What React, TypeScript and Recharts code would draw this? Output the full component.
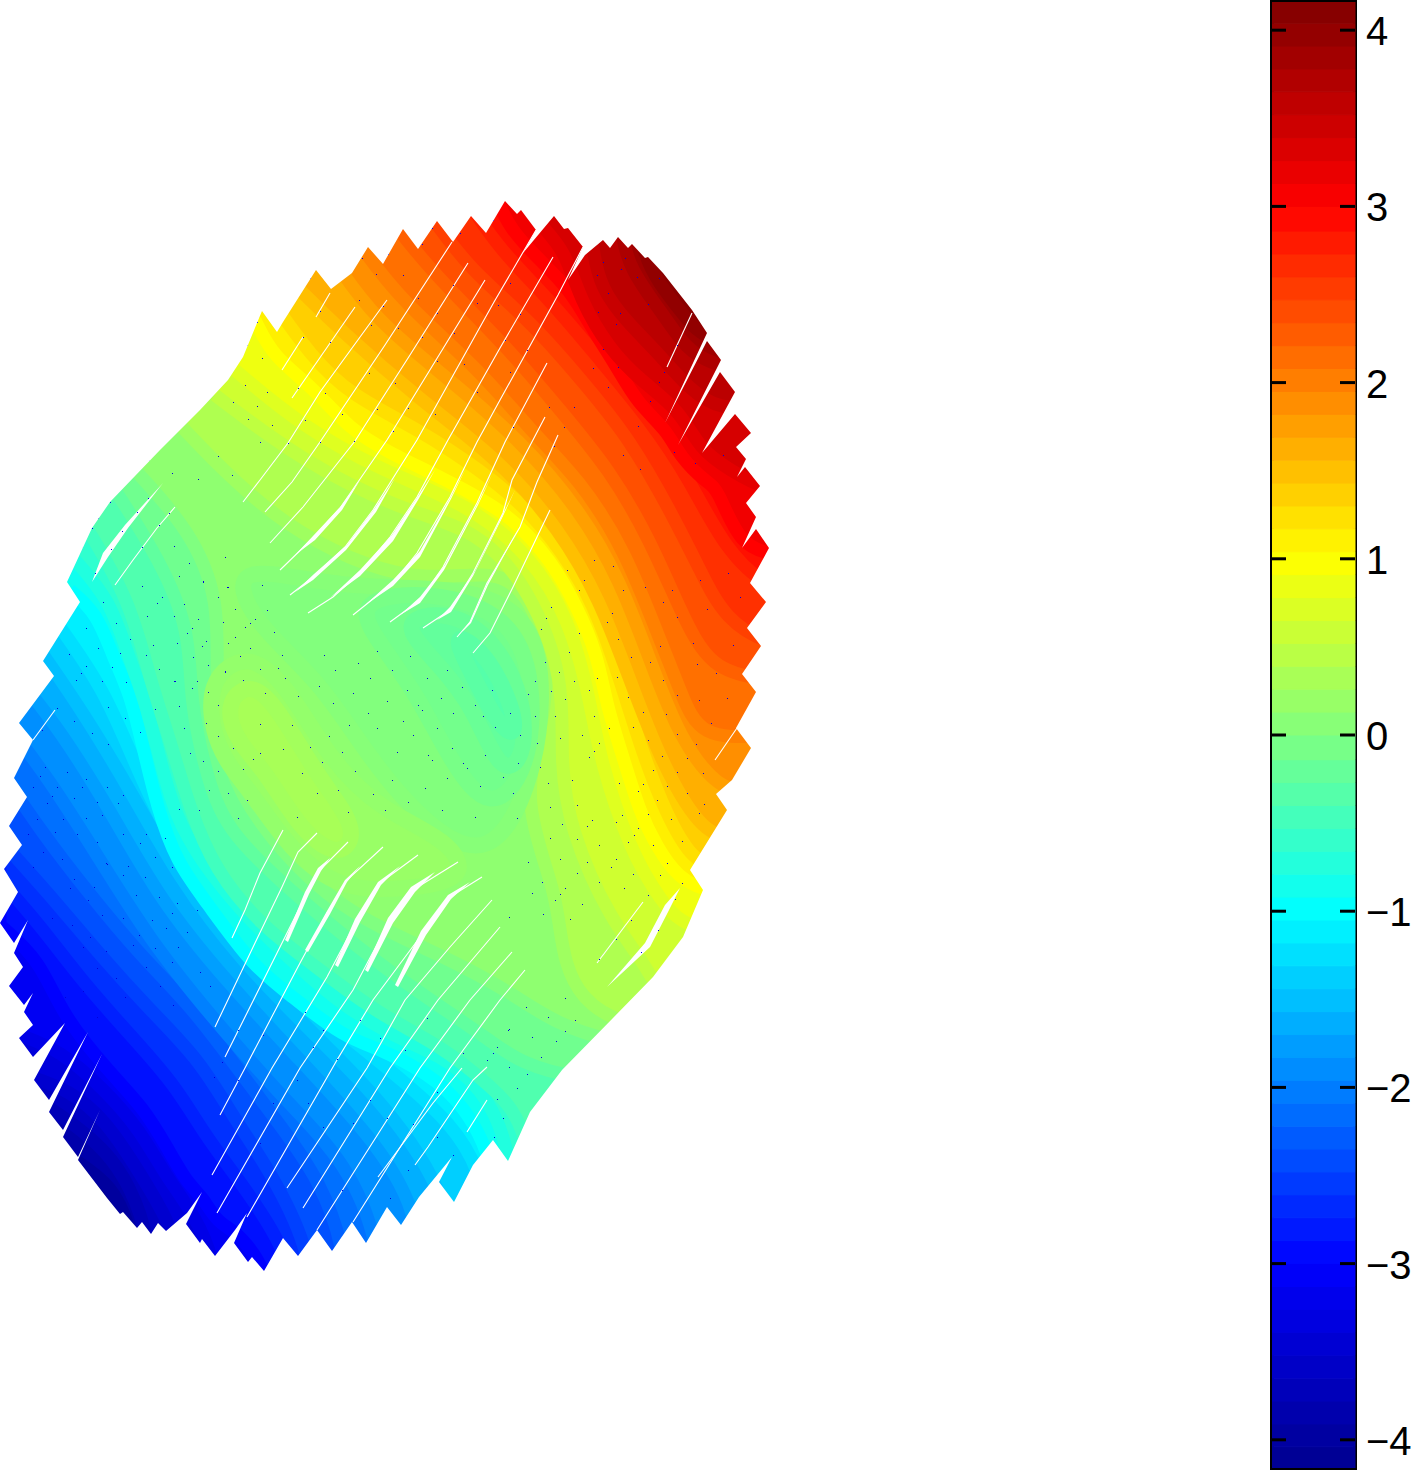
import React from 'react';
import { ScatterChart, Scatter, XAxis, YAxis, ReferenceArea } from 'recharts';

type Pt = [number, number];

// surface frame: same units as the source view, y grows downward
const X_MAX = 800;
const Y_MAX = 1471;

// outline of the surface, clockwise from the upper left
const outline: Pt[] = [
  [160,450],[200,410],[228,380],[243,357],[262,311],[277,332],[283,322],[316,270],[331,289],[352,273],[368,247],[383,264],
  [403,229],[418,249],[437,221],[453,242],[471,216],[486,233],[505,201],[517,214],[521,210],[536,230],[523,253],[554,216],
  [564,229],[568,228],[583,247],[568,280],[585,255],[603,240],[610,248],[618,237],[628,248],[632,244],[645,258],[648,257],
  [663,273],[692,310],[707,333],[665,423],[707,341],[721,360],[678,445],[720,372],[735,392],[702,453],[735,414],[751,433],
  [736,447],[746,459],[737,477],[745,467],[760,486],[746,503],[756,517],[742,548],[756,529],[769,548],[750,583],[766,602],
  [747,628],[761,646],[742,674],[756,692],[736,728],[751,748],[732,780],[716,794],[727,810],[690,870],[703,890],[683,937],
  [653,977],[613,1018],[562,1070],[530,1112],[508,1161],[493,1140],[473,1165],[454,1202],[439,1182],[452,1157],[419,1197],
  [401,1225],[387,1207],[366,1243],[352,1222],[332,1251],[317,1230],[298,1256],[283,1238],[264,1271],[252,1257],[248,1262],
  [234,1243],[247,1213],[235,1230],[215,1256],[202,1239],[200,1243],[186,1224],[202,1192],[187,1213],[166,1231],[158,1223],
  [151,1234],[142,1222],[137,1228],[123,1212],[120,1214],[107,1198],[78,1160],[100,1110],[78,1157],[63,1137],[102,1054],
  [63,1130],[49,1112],[88,1032],[49,1100],[34,1080],[65,1023],[33,1057],[19,1038],[33,1025],[24,1012],[33,993],[24,1005],
  [9,986],[23,967],[14,953],[28,920],[14,943],[0,923],[18,892],[4,869],[22,845],[9,826],[27,797],[14,778],[33,740],[19,723],
  [54,676],[43,661],[80,602],[67,582],[92,528],[110,502],
];

const isoLevels = [
  -4, -3.75, -3.5, -3.25, -3, -2.75, -2.5, -2.25, -2, -1.75, -1.5, -1.25, -1, -0.75, -0.5, -0.25, 0,
  0.25, 0.5, 0.75, 1, 1.25, 1.5, 1.75, 2, 2.25, 2.5, 2.75, 3, 3.25, 3.5, 3.75, 4,
];

// one line per level, each runs from the left/top side of the surface to the bottom/right side
const isoLines: Pt[][] = [
  [[60,1150],[90,1170],[115,1190],[135,1240]],
  [[45,1105],[75,1125],[105,1150],[130,1185],[150,1240]],
  [[25,1075],[70,1090],[105,1120],[135,1165],[165,1215],[175,1240]],
  [[20,1035],[60,1050],[105,1090],[140,1130],[165,1175],[195,1215],[215,1262]],
  [[0,925],[40,960],[62,1015],[110,1073],[143,1107],[167,1147],[187,1183],[203,1197],[217,1223],[240,1233],[268,1275]],
  [[0,880],[40,925],[85,985],[135,1040],[175,1085],[205,1135],[235,1175],[260,1210],[290,1260]],
  [[0,840],[50,895],[100,955],[150,1010],[200,1060],[235,1120],[270,1170],[310,1250]],
  [[0,770],[40,830],[90,895],[140,955],[190,1005],[235,1065],[280,1125],[320,1180],[345,1250]],
  [[0,715],[50,780],[100,860],[150,940],[210,1015],[280,1095],[350,1165],[380,1250]],
  [[20,680],[60,730],[110,810],[160,900],[225,980],[300,1060],[370,1135],[420,1210]],
  [[40,650],[85,715],[130,790],[180,880],[240,960],[320,1040],[395,1115],[455,1210]],
  [[55,620],[105,690],[135,765],[180,860],[240,945],[320,1015],[410,1085],[490,1160]],
  [[70,590],[97,613],[113,657],[130,693],[143,747],[157,807],[177,863],[205,900],[253,967],[293,997],[343,1037],[383,1050],[427,1073],[463,1103],[500,1170]],
  [[75,560],[110,600],[128,655],[145,700],[160,760],[175,815],[200,860],[240,910],[280,950],[335,1000],[390,1035],[440,1055],[480,1085],[515,1150]],
  [[85,525],[130,600],[150,680],[170,740],[190,810],[215,870],[260,925],[320,970],[380,1015],[440,1045],[490,1085],[535,1130]],
  [[115,490],[160,560],[190,630],[190,700],[205,770],[225,830],[290,890],[360,950],[430,1000],[490,1040],[550,1085]],
  [[135,470],[190,530],[220,600],[215,680],[225,770],[270,840],[340,910],[430,950],[510,990],[590,1050]],
  [[180,425],[280,530],[420,590],[510,560],[550,640],[545,720],[520,800],[560,900],[560,960],[600,1035]],
  [[215,395],[300,460],[400,510],[480,530],[530,590],[565,680],[560,760],[570,830],[610,920],[650,970],[660,1000]],
  [[235,370],[300,425],[380,470],[470,505],[530,555],[570,620],[590,700],[600,760],[630,850],[660,900],[690,935]],
  [[255,320],[273,357],[313,387],[350,430],[390,453],[440,477],[510,513],[553,563],[577,607],[597,653],[607,707],[623,757],[640,813],[657,847],[677,877],[710,895]],
  [[275,305],[310,355],[350,395],[420,430],[480,470],[530,510],[575,570],[600,620],[620,680],[640,745],[660,800],[690,860],[720,870]],
  [[300,290],[340,330],[420,400],[500,460],[560,530],[600,600],[630,680],[660,760],[700,830],[730,840]],
  [[335,262],[375,320],[450,380],[520,440],[580,510],[620,580],[650,660],[680,740],[720,790],[745,790]],
  [[360,245],[400,300],[480,370],[530,430],[580,480],[625,550],[660,640],[680,690],[700,740],[765,735]],
  [[395,225],[430,270],[510,350],[560,410],[610,470],[650,540],[680,610],[710,670],[765,680]],
  [[430,215],[470,270],[530,320],[590,390],[630,440],[670,510],[700,570],[725,620],[770,645]],
  [[470,205],[500,250],[550,300],[600,360],[650,420],[690,480],[725,550],[770,590]],
  [[495,195],[510,230],[543,263],[570,290],[593,330],[617,367],[637,403],[667,430],[680,457],[707,483],[717,487],[740,547],[775,555]],
  [[515,190],[540,225],[565,250],[580,300],[610,350],[640,380],[680,410],[700,450],[730,470],[765,490]],
  [[590,190],[590,235],[600,290],[630,325],[660,355],[690,390],[720,410],[760,405]],
  [[620,190],[620,230],[630,270],[660,310],[680,340],[700,360],[750,375]],
  [[640,190],[640,250],[660,285],[680,310],[695,330],[720,345]],
];

// closed patches in the flat middle of the surface: dips and bumps, painted in this order
const patchValues = [0.02, -0.1, -0.22, -0.33, 0.2, 0.32];
const patches: Pt[][] = [
  [[230,560],[340,590],[470,585],[535,620],[545,700],[530,790],[490,860],[430,830],[370,760],[320,680],[250,620]],
  [[350,600],[430,590],[510,615],[535,680],[530,770],[490,815],[450,760],[420,700],[385,650]],
  [[395,620],[450,610],[495,640],[525,700],[525,760],[500,775],[475,710],[440,665]],
  [[450,630],[485,650],[515,710],[515,740],[495,720],[470,670]],
  [[205,680],[250,650],[290,690],[330,760],[380,810],[450,840],[470,880],[400,890],[340,890],[290,850],[250,790],[215,750]],
  [[225,700],[255,680],[285,720],[320,780],[360,830],[340,860],[300,830],[265,770],[235,740]],
];

// thin white gaps between the sheets of the surface
const gapLines: Pt[][] = [
  [[243,502],[260,480],[288,443],[320,392],[387,300]],
  [[265,512],[292,482],[320,442],[385,345],[452,242]],
  [[270,543],[303,507],[355,441],[410,355],[468,263]],
  [[280,570],[313,538],[340,508],[387,440],[485,280]],
  [[290,595],[313,577],[345,547],[373,510],[417,440],[494,302],[536,230]],
  [[308,613],[333,597],[360,573],[390,537],[417,497],[448,440],[500,348],[553,257]],
  [[353,615],[393,583],[417,553],[450,497],[477,442],[500,400],[558,295],[583,247]],
  [[390,622],[420,600],[443,567],[477,503],[505,442],[547,363]],
  [[423,628],[450,610],[473,573],[503,513],[512,480],[545,417]],
  [[457,637],[470,622],[487,583],[520,527],[537,482],[558,435]],
  [[473,653],[490,633],[513,587],[537,537],[550,510]],
  [[282,370],[303,337]],
  [[292,398],[355,307]],
  [[316,317],[330,293]],
  [[667,367],[692,313]],
  [[715,760],[737,728]],
  [[597,963],[643,902]],
  [[115,585],[133,560],[157,528],[175,507]],
  [[33,740],[55,710]],
  [[232,938],[245,910],[260,873],[283,830]],
  [[215,1027],[255,943],[282,887],[298,852],[317,833]],
  [[225,1057],[277,953],[307,893],[320,870],[348,842]],
  [[220,1115],[245,1068],[300,963],[327,913],[347,880],[383,847]],
  [[212,1175],[272,1068],[327,977],[357,920],[380,883],[418,855]],
  [[217,1213],[300,1068],[353,990],[390,920],[413,890],[458,862]],
  [[247,1217],[337,1060],[373,1000],[423,933],[450,897],[482,877]],
  [[287,1188],[367,1068],[405,1000],[450,947],[492,900]],
  [[303,1208],[390,1068],[438,1000],[500,927]],
  [[317,1230],[420,1068],[470,1000],[512,952]],
  [[353,1222],[450,1068],[500,1000],[525,970]],
  [[378,1177],[433,1103],[462,1068]],
  [[415,1165],[428,1147],[473,1080],[487,1067]],
  [[467,1132],[487,1100]],
];

// the wider parts of those gaps
const gapLenses: Pt[][] = [
  [[295,555],[313,536],[341,506],[360,480],[342,510],[315,540]],
  [[295,592],[314,574],[347,545],[375,508],[395,478],[376,512],[346,550],[313,580]],
  [[330,598],[360,570],[392,535],[419,495],[435,470],[418,500],[393,541],[360,576]],
  [[365,605],[393,580],[420,551],[452,495],[465,470],[451,499],[420,557],[393,586]],
  [[400,615],[420,597],[445,565],[479,501],[492,475],[478,505],[444,570],[420,603]],
  [[437,620],[450,607],[475,571],[504,512],[515,490],[503,516],[473,576],[451,612]],
  [[462,632],[471,620],[488,582],[520,526],[488,585],[471,623]],
  [[285,940],[305,892],[318,868],[330,858],[321,871],[309,894],[288,942]],
  [[305,950],[327,911],[345,880],[360,866],[347,882],[330,914],[308,952]],
  [[335,965],[355,919],[378,882],[400,866],[381,885],[360,922],[338,967]],
  [[365,970],[388,918],[411,887],[435,872],[415,892],[393,923],[368,972]],
  [[395,985],[421,931],[448,895],[470,882],[451,899],[426,935],[398,987]],
  [[92,582],[103,553],[125,525],[163,483],[128,528],[108,557]],
  [[607,987],[645,943],[665,905],[680,888],[668,912],[650,947]],
];

// single blue pixels scattered over the surface
const specks: Pt[] = [
  [203,582],[227,587],[262,585],[218,597],[184,604],[235,609],[267,610],[174,616],[198,619],[250,623],[255,619],[192,628],[245,627],[274,632],[235,637],[206,641],
  [202,646],[250,648],[240,656],[282,655],[208,665],[225,672],[260,669],[278,668],[243,680],[175,681],[197,681],[285,678],[192,688],[208,692],[265,693],[298,696],
  [319,686],[353,693],[370,678],[392,670],[358,663],[324,655],[335,670],[407,690],[377,651],[410,656],[427,678],[447,670],[462,687],[492,690],[528,694],[535,681],
  [441,698],[475,705],[418,705],[422,710],[387,701],[333,703],[368,713],[403,721],[437,728],[453,713],[483,716],[510,713],[495,727],[535,716],[555,716],[413,735],
  [377,728],[349,725],[329,736],[310,747],[292,725],[260,724],[218,736],[233,748],[260,753],[283,749],[342,752],[397,752],[428,755],[452,748],[485,755],[520,735],
  [537,743],[560,738],[190,753],[203,761],[253,759],[322,762],[432,760],[463,763],[518,763],[218,771],[243,769],[302,773],[355,771],[392,780],[447,778],[467,768],
  [503,777],[540,767],[572,780],[209,790],[228,793],[247,800],[317,793],[338,790],[373,794],[425,788],[480,786],[513,793],[548,783],[179,809],[199,810],[238,818],
  [297,817],[348,812],[385,810],[408,802],[442,810],[475,817],[517,818],[550,807],[577,805],
  [257,322],[310,278],[362,258],[388,254],[422,244],[376,274],[403,275],[320,311],[359,300],[383,306],[418,298],[453,285],[432,228],[460,233],[493,220],[247,345],
  [262,358],[303,337],[330,342],[371,325],[398,328],[437,313],[477,303],[498,305],[510,283],[245,385],[267,392],[298,388],[325,393],[369,373],[395,383],[422,337],
  [454,333],[505,340],[520,314],[233,402],[257,406],[272,425],[305,420],[342,414],[377,409],[408,408],[437,361],[464,364],[510,372],[527,350],[248,419],[260,442],
  [288,443],[320,442],[354,441],[393,431],[435,414],[477,392],[513,427],
  [603,262],[625,258],[597,275],[621,269],[637,277],[659,278],[608,293],[598,312],[620,313],[648,304],[616,324],[677,345],[603,349],[618,367],[593,368],[664,372],
  [659,382],[608,387],[650,401],[638,426],[674,452],[695,463],[723,455],[640,469],[549,407],[574,407],[564,427],[554,446],[623,455],
  [594,560],[567,570],[613,566],[584,580],[645,587],[672,590],[700,580],[728,573],[579,590],[623,590],[663,602],[707,609],[740,597],[551,607],[612,613],[677,617],
  [546,618],[607,622],[541,629],[579,633],[618,639],[660,646],[693,643],[733,645],[569,652],[631,657],[650,662],[697,664],[545,662],[559,672],[597,678],[663,680],
  [716,673],[535,681],[574,681],[551,691],[589,690],[628,697],[677,695],[727,698],[565,699],[617,677],[643,712],[699,700],[555,716],[594,716],[666,714],[711,723],
  [582,735],[609,728],[633,727],[677,734],[599,743],[648,740],[696,744],[594,751],[662,756],[687,758],[589,757],
  [149,460],[172,473],[198,479],[232,475],[218,456],[110,502],[148,498],[137,512],[98,518],[169,513],[92,528],[122,531],[159,525],[174,546],[142,547],[82,547],
  [111,549],[225,557],[189,563],[179,576],[203,581],[142,586],[95,573],[228,587],[162,597],[218,597],[103,602],[157,603],[184,604],[74,608],[147,616],[174,616],
  [64,622],[116,623],[198,619],[223,622],[86,628],[187,633],[130,639],[57,633],[153,645],[177,643],[228,643],[98,648],[69,654],[120,653],[146,655],[193,657],
  [208,665],[86,666],[112,667],[159,669],[225,671],[81,673],[102,681],[76,680],[126,682],[174,681],[197,681],[32,702],[57,708],[108,707],[155,709],[179,706],
  [218,705],[74,721],[125,718],[206,723],[184,728],[42,730],[92,733],[140,732],[218,736],[108,744],[233,748],
  [45,767],[67,772],[86,779],[107,787],[123,795],[40,776],[33,787],[57,787],[52,796],[82,787],[74,798],[97,802],[47,803],[118,803],[146,834],[165,838],
  [86,818],[63,819],[37,819],[102,815],[28,834],[55,832],[77,834],[106,863],[43,852],[62,859],[97,842],[123,834],[140,843],[155,857],[33,867],[128,866],
  [172,867],[107,864],[74,879],[94,887],[123,875],[145,877],[70,888],[52,918],[88,900],[102,915],[136,895],[159,897],[177,903],[123,918],[152,920],[72,925],
  [172,913],[197,910],[90,937],[139,935],[166,928],[187,932],[83,947],[133,945],[155,948],[178,947],[106,951],[146,967],[172,962],[200,972],[97,968],[116,978],
  [160,986],[210,986],[83,991],[125,997],[65,997],[97,1017],[173,1005],
  [238,1030],[263,1035],[323,1030],[360,1020],[380,1038],[405,1050],[427,1018],[463,1053],[493,1053],[508,1030],[487,1060],[509,1067],[527,1074],[517,1088],[497,1099],[503,1118],
  [494,1137],[437,1092],[413,1124],[370,1100],[337,1059],[305,1012],[313,1047],[297,1080],[308,1103],[353,1123],[387,1118],[408,1170],[437,1137],[453,1155],[390,1198],[342,1190],
  [323,1127],[273,1103],[260,1143],[238,1080],[222,1062],[214,1077],
  [653,770],[677,772],[703,773],[619,783],[643,784],[667,786],[687,793],[638,791],[657,800],[704,804],[622,815],[648,814],[671,819],[699,813],[592,820],[616,822],
  [638,828],[562,824],[587,826],[550,838],[577,839],[634,835],[628,842],[682,841],[599,845],[653,845],[616,859],[528,862],[560,859],[587,862],[667,863],[611,867],
  [633,874],[660,875],[577,873],[542,882],[599,882],[624,888],[565,888],[682,883],[532,893],[560,894],[648,895],[555,900],[582,904],[675,899],[543,914],[509,917],
  [570,919],[631,920],[658,930],[616,939],[641,952],[599,959],[565,998],[526,1007],[548,1017],[575,1020],[565,1031],[532,1037],[556,1041],[541,1057],[509,1029],[497,1047],
];

// colorbar
const barTicks = [-4, -3, -2, -1, 0, 1, 2, 3, 4];
const barEdges = [
  -4.16, -4.04, -3.91, -3.78, -3.65, -3.52, -3.39, -3.26, -3.13, -3.0, -2.87, -2.74, -2.61, -2.48, -2.35, -2.22,
  -2.09, -1.96, -1.83, -1.7, -1.57, -1.44, -1.31, -1.18, -1.05, -0.92, -0.79, -0.66, -0.53, -0.4, -0.27, -0.14,
  0, 0.13, 0.26, 0.39, 0.52, 0.65, 0.78, 0.91, 1.04, 1.17, 1.3, 1.43, 1.56, 1.69, 1.82, 1.95,
  2.08, 2.21, 2.34, 2.47, 2.6, 2.73, 2.86, 3.0, 3.13, 3.26, 3.39, 3.52, 3.65, 3.78, 3.91, 4.04, 4.16,
];

// jet colormap stops [value, r, g, b]
const jetStops = [
  [-4.16, 0, 0, 143],
  [-3, 0, 0, 255],
  [-1, 0, 255, 255],
  [1, 255, 255, 0],
  [3, 255, 0, 0],
  [4.16, 128, 0, 0],
];

const jet = (v: number) => {
  let i = 0;
  while (i < jetStops.length - 2 && v > jetStops[i + 1][0]) i++;
  const a = jetStops[i];
  const b = jetStops[i + 1];
  const t = Math.min(1, Math.max(0, (v - a[0]) / (b[0] - a[0])));
  const c = [1, 2, 3].map(k => Math.round(a[k] + (b[k] - a[k]) * t));
  return `rgb(${c[0]},${c[1]},${c[2]})`;
};

const toRows = (pts: Pt[]) => pts.map(([x, y]) => ({ x, y }));
const noDot = () => <g />;
const SpeckDot = (props: any) => <rect x={props.cx} y={props.cy} width={1} height={1} fill="#0000dc" />;

// region at or above a level: the line closed round the top right of the frame
const upperRegion = (line: Pt[]): Pt[] => {
  const first = line[0];
  const last = line[line.length - 1];
  const tail: Pt[] = last[0] > 540 ? [[X_MAX, last[1]]] : [[last[0], 1300], [X_MAX, 1300]];
  return [...line, ...tail, [X_MAX, 100], [0, 100], [0, first[1]]];
};

const fullFrame: Pt[] = [[0, 100], [X_MAX, 100], [X_MAX, 1300], [0, 1300]];
const maskShape: Pt[] = [
  [0, 0], [X_MAX, 0], [X_MAX, Y_MAX], [0, Y_MAX], [0, 0],
  ...outline, outline[0], [0, 0],
];

const Region = (pts: Pt[], fill: string, key: string, edge = 'none', joint: any = 'linear', edgeWidth = 13) => (
  <Scatter
    key={key}
    data={toRows(pts)}
    shape={noDot}
    lineJointType={joint}
    line={{ fill, stroke: edge, strokeWidth: edgeWidth, strokeLinejoin: 'round' }}
    isAnimationActive={false}
  />
);

const BarTick = (props: any) => {
  const { x, y, payload } = props;
  const label = payload.value < 0 ? `\u2212${-payload.value}` : `${payload.value}`;
  return (
    <g>
      <line x1={x - 83} x2={x - 69} y1={y} y2={y} stroke="#000" strokeWidth={3} />
      <line x1={x - 15} x2={x} y1={y} y2={y} stroke="#000" strokeWidth={3} />
      <text x={x + 11} y={y + 15} fontFamily="Liberation Sans" fontSize={40} fill="#000">{label}</text>
    </g>
  );
};

export default function App() {
  return (
    <div style={{ position: 'absolute', left: 0, top: 0, width: 1413, height: 1471, background: '#fff', overflow: 'hidden' }}>
      <div style={{ position: 'absolute', left: 0, top: 0 }}>
        <ScatterChart width={X_MAX} height={Y_MAX} margin={{ top: 0, right: 0, bottom: 0, left: 0 }}>
          <XAxis type="number" dataKey="x" domain={[0, X_MAX]} hide />
          <YAxis type="number" dataKey="y" domain={[0, Y_MAX]} reversed hide />
          {Region(fullFrame, jet(-4.1), 'base')}
          {isoLines.map((line, i) => {
            const next = i + 1 < isoLevels.length ? isoLevels[i + 1] : 4.16;
            return Region(upperRegion(line), jet((isoLevels[i] + next) / 2), `iso-${i}`, jet(isoLevels[i]), 'basis');
          })}
          {patches.map((p, i) => {
            const edge = jet((patchValues[i] + (i < 4 ? 0.04 : -0.04)));
            return Region(p, jet(patchValues[i]), `patch-${i}`, edge, 'basisClosed', 16);
          })}
          {gapLenses.map((p, i) => Region(p, '#fff', `lens-${i}`))}
          {gapLines.map((p, i) => (
            <Scatter
              key={`gap-${i}`}
              data={toRows(p)}
              shape={noDot}
              line={{ stroke: '#fff', strokeWidth: 1.1, fill: 'none' }}
              isAnimationActive={false}
            />
          ))}
          <Scatter data={toRows(specks)} shape={SpeckDot} isAnimationActive={false} />
          <Scatter
            data={toRows(maskShape)}
            shape={noDot}
            line={{ fill: '#fff', stroke: 'none', fillRule: 'evenodd' }}
            isAnimationActive={false}
          />
        </ScatterChart>
      </div>
      <div style={{ position: 'absolute', left: 1268, top: 0 }}>
        <ScatterChart width={145} height={Y_MAX} margin={{ top: 2, right: 0, bottom: 3, left: 4 }}>
          <XAxis type="number" dataKey="x" domain={[0, 1]} hide />
          <YAxis
            orientation="right"
            type="number"
            dataKey="y"
            width={58}
            domain={[-4.16, 4.16]}
            allowDataOverflow
            ticks={barTicks}
            interval={0}
            axisLine={false}
            tickLine={false}
            tickSize={0}
            tickMargin={0}
            tick={<BarTick />}
          />
          {barEdges.slice(0, -1).map((lo, i) => {
            const c = jet((lo + barEdges[i + 1]) / 2);
            return Region([[0, lo], [1, lo], [1, barEdges[i + 1]], [0, barEdges[i + 1]]], c, `band-${i}`, c, 'linear', 1);
          })}
          <ReferenceArea y1={-4.16} y2={4.16} fill="none" stroke="#000" strokeWidth={4} />
        </ScatterChart>
      </div>
    </div>
  );
}
